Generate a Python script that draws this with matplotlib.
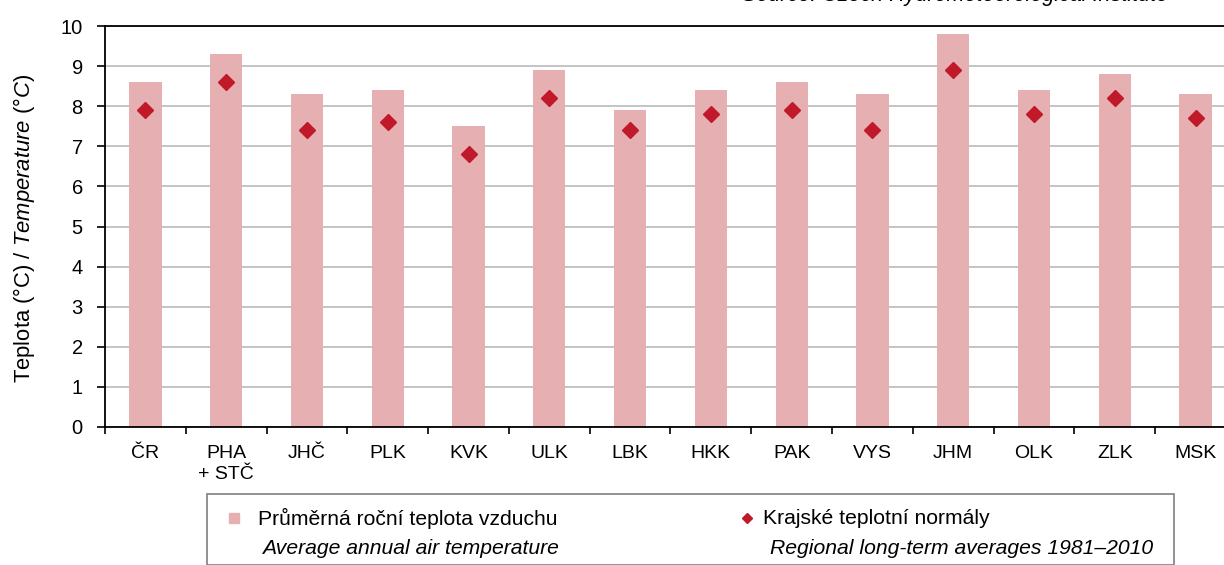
import matplotlib
matplotlib.use("Agg")
import matplotlib.pyplot as plt
from matplotlib.patches import Rectangle
from matplotlib.lines import Line2D

plt.rcParams['font.family'] = ['Liberation Sans', 'DejaVu Sans']
plt.rcParams['mathtext.fontset'] = 'custom'
plt.rcParams['mathtext.rm'] = 'Liberation Sans'
plt.rcParams['mathtext.it'] = 'Liberation Sans:italic'

regions = ["ČR", "PHA\n+ STČ", "JHČ", "PLK", "KVK", "ULK", "LBK", "HKK",
           "PAK", "VYS", "JHM", "OLK", "ZLK", "MSK"]
avg_temp = [8.6, 9.3, 8.3, 8.4, 7.5, 8.9, 7.9, 8.4, 8.6, 8.3, 9.8, 8.4, 8.8, 8.3]
normals = [7.9, 8.6, 7.4, 7.6, 6.8, 8.2, 7.4, 7.8, 7.9, 7.4, 8.9, 7.8, 8.2, 7.7]

bar_col = '#E6AFB2'
dia_col = '#C01A2A'
fs = 15.2

W, H = 1224, 565
fig = plt.figure(figsize=(W / 100, H / 100), dpi=100)
# axes runs past the right edge, as in the cropped original
ax = fig.add_axes([105 / W, 1 - 427 / H, 1131 / W, 401 / H])

x = list(range(len(regions)))
ax.bar(x, avg_temp, width=0.4, color=bar_col, zorder=2)
ax.plot(x, normals, linestyle='none', marker='D', markersize=8.5,
        color=dia_col, zorder=3)

ax.set_xlim(-0.5, len(regions) - 0.5)
ax.set_ylim(0, 10)
ax.set_yticks(range(0, 11))
ax.yaxis.grid(True, color='#BFBFBF', linewidth=1.3, zorder=0)
ax.set_axisbelow(True)

ax.set_xticks(x)
ax.set_xticklabels(regions, fontsize=14, linespacing=1.3)
ax.set_xticks([i - 0.5 for i in range(len(regions) + 1)], minor=True)
ax.tick_params(axis='x', which='major', length=0, pad=13)
ax.tick_params(axis='x', which='minor', length=5, width=1.2, direction='out')
ax.tick_params(axis='y', length=6, width=1.2, labelsize=14.5, pad=10)

for s in ['left', 'bottom', 'top']:
    ax.spines[s].set_color('black')
    ax.spines[s].set_linewidth(1.3)
ax.spines['right'].set_visible(False)

fig.text(24 / W, 1 - 228 / H, r"Teplota (°C) / $\mathit{Temperature\ (°C)}$",
         rotation=90, ha='center', va='center', fontsize=15.8)

fig.text(1168 / W, 1 - 6 / H, "Source: Czech Hydrometeorological Institute",
         ha='right', va='bottom', fontsize=15.5, style='italic')

# legend
fig.add_artist(Rectangle((207 / W, 0), (1174 - 207) / W, 1 - 494 / H,
                         transform=fig.transFigure, fill=False,
                         edgecolor='#7F7F7F', linewidth=1.2))
fig.add_artist(Line2D([234 / W], [1 - 518 / H], marker='s', markersize=7.5,
                      color=bar_col, linestyle='none', transform=fig.transFigure))
fig.add_artist(Line2D([747 / W], [1 - 518 / H], marker='D', markersize=5,
                      color=dia_col, linestyle='none', transform=fig.transFigure))
fig.text(258 / W, 1 - 518 / H, "Průměrná roční teplota vzduchu",
         ha='left', va='center', fontsize=fs)
fig.text(262 / W, 1 - 548 / H, "Average annual air temperature",
         ha='left', va='center', fontsize=fs, style='italic')
fig.text(763 / W, 1 - 518 / H, "Krajské teplotní normály",
         ha='left', va='center', fontsize=fs)
fig.text(770 / W, 1 - 548 / H, "Regional long-term averages 1981–2010",
         ha='left', va='center', fontsize=fs, style='italic')

fig.savefig("out.png", dpi=100)
